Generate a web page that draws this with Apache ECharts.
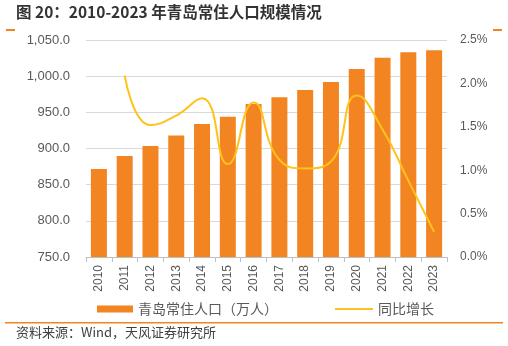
<!DOCTYPE html>
<html><head><meta charset="utf-8">
<script src="https://cdn.jsdelivr.net/npm/echarts@6/dist/echarts.min.js"></script>
<style>html,body{margin:0;padding:0;background:#fff}#c{width:508px;height:346px}</style>
</head><body><div id="c"></div>
<script>
var years = ['2010','2011','2012','2013','2014','2015','2016','2017','2018','2019','2020','2021','2022','2023'];
var population = [871.5, 889.6, 903.5, 918.0, 934.0, 944.0, 961.5, 971.0, 981.0, 992.0, 1010.0, 1025.6, 1033.0, 1036.0];
var growth = [null, 2.09, 1.52, 1.63, 1.83, 1.07, 1.78, 1.12, 1.02, 1.10, 1.86, 1.47, 0.88, 0.29];
var leftTicks = [750, 1050, 50];
var rightTicks = [0, 2.5, 0.5];
var title = '图 20：2010-2023 年青岛常住人口规模情况';
var source = '资料来源：Wind，天风证券研究所';
var barName = '青岛常住人口（万人）';
var lineName = '同比增长';

var FONT = '"Liberation Sans", "Noto Sans CJK SC", sans-serif';
var CJK = '"Noto Sans CJK SC", "Liberation Sans", sans-serif';
var chart = echarts.init(document.getElementById('c'), null, {renderer: 'canvas'});
chart.setOption({
  animation: false,
  textStyle: {fontFamily: FONT},
  grid: {left: 86, right: 61, top: 40, bottom: 89, containLabel: false},
  legend: [
    {data: [{name: barName, icon: 'rect'}], left: 97, top: 302, padding: 0, itemWidth: 36, itemHeight: 7, itemGap: 5,
     textStyle: {color: '#595959', fontSize: 14, fontFamily: CJK}},
    {data: [{name: lineName, icon: 'path://M0,0 L40,0 L40,2 L0,2 Z'}], left: 335, top: 302, padding: 0, itemWidth: 38, itemHeight: 2,
     itemStyle: {color: '#FFC21A'},
     textStyle: {color: '#595959', fontSize: 14, fontFamily: CJK}}
  ],
  xAxis: {
    type: 'category', data: years,
    axisLine: {lineStyle: {color: '#bfbfbf'}},
    axisTick: {show: true, length: 5, lineStyle: {color: '#bfbfbf'}},
    axisLabel: {rotate: 90, color: '#595959', fontSize: 12, margin: 8, fontFamily: FONT}
  },
  yAxis: [
    {type: 'value', min: leftTicks[0], max: leftTicks[1], interval: leftTicks[2],
     axisLine: {show: false}, axisTick: {show: false},
     splitLine: {lineStyle: {color: '#d9d9d9'}},
     axisLabel: {color: '#595959', fontSize: 13, margin: 16,
       formatter: function (v) { return v.toLocaleString('en-US', {minimumFractionDigits: 1, maximumFractionDigits: 1}); }}},
    {type: 'value', min: rightTicks[0], max: rightTicks[1], interval: rightTicks[2],
     axisLine: {show: false}, axisTick: {show: false}, splitLine: {show: false},
     axisLabel: {color: '#595959', fontSize: 12, margin: 13,
       formatter: function (v) { return v.toFixed(1) + '%'; }}}
  ],
  series: [
    {name: barName, type: 'bar', data: population, barWidth: 16, yAxisIndex: 0,
     itemStyle: {color: '#F28522'}},
    {name: lineName, type: 'line', data: growth, yAxisIndex: 1, smooth: 0.5,
     showSymbol: false, symbol: 'none', lineStyle: {color: '#FFC21A', width: 2}, itemStyle: {color: '#FFC21A'}}
  ],
  graphic: [
    {type: 'text', left: 16, top: 4, style: {text: title, fill: '#333333', font: 'bold 15.5px ' + CJK}},
    {type: 'rect', shape: {x: 6, y: 29, width: 9, height: 2}, style: {fill: '#F28522'}},
    {type: 'rect', shape: {x: 493, y: 29, width: 9, height: 2}, style: {fill: '#F28522'}},
    {type: 'rect', shape: {x: 5, y: 322, width: 498, height: 1.5}, style: {fill: '#F28522'}},
    {type: 'text', left: 16, top: 326, style: {text: source, font: '13px ' + CJK, fill: '#404040'}}
  ]
});
</script></body></html>
